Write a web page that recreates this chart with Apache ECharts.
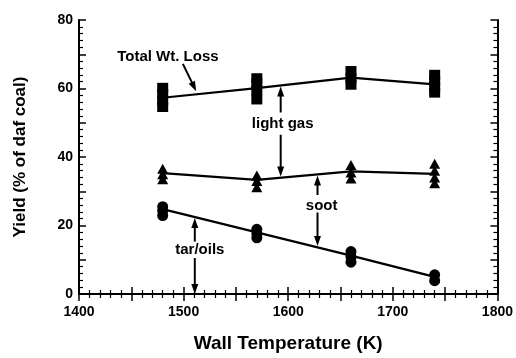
<!DOCTYPE html>
<html><head><meta charset="utf-8">
<script src="https://cdn.jsdelivr.net/npm/echarts@6/dist/echarts.min.js"></script>
<style>html,body{margin:0;padding:0;background:#fff}#c{width:516px;height:358px}</style>
</head><body><div id="c"></div>
<script>
// ---- data ----
const temps = [1480, 1570, 1660, 1740];
const totalMean = [57.3, 60.1, 63.2, 61.2];
const sootMean = [35.3, 33.3, 35.8, 35.1];
const tarMean = [24.8, 18.0, 11.2, 5.0];
const totalReps = [[54.6, 56.5, 58.4, 60.2], [56.8, 59.5, 61.5, 63.0], [61.1, 63.0, 65.1], [58.8, 60.5, 62.3, 64.0]];
const sootReps = [[33.5, 35.0, 36.6], [31.2, 33.0, 34.6], [33.7, 35.5, 37.7], [32.3, 34.0, 36.0, 38.0]];
const tarReps = [[22.9, 24.3, 25.5], [16.4, 17.7, 18.9], [9.3, 10.8, 12.4], [3.9, 5.6]];
const xTickLabels = ['1400', '1500', '1600', '1700', '1800'];
const yTickLabels = ['0', '20', '40', '60', '80'];
const xTitle = 'Wall Temperature (K)';
const yTitle = 'Yield (% of daf coal)';

// annotations (data coordinates)
const notes = [
  { text: 'Total Wt. Loss', at: [1485, 69.2] },
  { text: 'light gas', at: [1594.7, 49.6] },
  { text: 'soot', at: [1632, 25.8] },
  { text: 'tar/oils', at: [1515.5, 13.0] }
];
const arrows = [
  [[1499.3, 67.2], [1512, 59.2]],
  [[1592.8, 53.0], [1592.8, 60.6]],
  [[1592.8, 46.5], [1592.8, 34.3]],
  [[1628, 28.9], [1628, 34.6]],
  [[1628, 23.8], [1628, 14.0]],
  [[1510.7, 15.3], [1510.7, 22.2]],
  [[1510.7, 10.5], [1510.7, 0]]
];

const FONT = "'Liberation Sans', Arial, sans-serif";
const pairs = (reps) => { const out = []; reps.forEach((r, i) => r.forEach(v => out.push([temps[i], v]))); return out; };
const meanPairs = (m) => m.map((v, i) => [temps[i], v]);

const axisLineS = { show: true, lineStyle: { color: '#000', width: 2 } };
function xAx(pos, labels) {
  return {
    type: 'value', position: pos, min: 1400, max: 1800, interval: 50,
    axisLine: axisLineS,
    axisTick: { show: true, inside: true, length: 7, lineStyle: { color: '#000', width: 1.5 } },
    minorTick: { show: true, splitNumber: 5, length: 4, lineStyle: { color: '#000', width: 1.2 } },
    splitLine: { show: false },
    axisLabel: labels ? {
      show: true, color: '#000', fontFamily: FONT, fontSize: 14, fontWeight: 'bold', margin: 11,
      formatter: v => xTickLabels.includes(String(v)) ? String(v) : ''
    } : { show: false },
    name: labels ? xTitle : '', nameLocation: 'middle', nameGap: 40,
    nameTextStyle: { color: '#000', fontFamily: FONT, fontSize: 19, fontWeight: 'bold' }
  };
}
function yAx(pos, labels) {
  return {
    type: 'value', position: pos, min: 0, max: 80, interval: 10,
    axisLine: axisLineS,
    axisTick: { show: true, inside: true, length: 7, lineStyle: { color: '#000', width: 1.5 } },
    minorTick: { show: true, splitNumber: 5, length: 4, lineStyle: { color: '#000', width: 1.2 } },
    splitLine: { show: false },
    axisLabel: labels ? {
      show: true, color: '#000', fontFamily: FONT, fontSize: 14, fontWeight: 'bold', margin: 6,
      formatter: v => yTickLabels.includes(String(v)) ? String(v) : ''
    } : { show: false },
    name: labels ? yTitle : '', nameLocation: 'middle', nameGap: 50, nameRotate: 90,
    nameTextStyle: { color: '#000', fontFamily: FONT, fontSize: 17, fontWeight: 'bold' }
  };
}

const lineS = (d) => ({ type: 'line', data: meanPairs(d), xAxisIndex: 0, yAxisIndex: 0, showSymbol: false, symbol: 'none',
  lineStyle: { color: '#000', width: 2.2 }, silent: true, z: 2 });
const scatS = (d, sym, size) => ({ type: 'scatter', data: pairs(d), xAxisIndex: 0, yAxisIndex: 0, symbol: sym, symbolSize: size,
  itemStyle: { color: '#000', opacity: 1 }, silent: true, z: 3 });

const chart = echarts.init(document.getElementById('c'), null, { renderer: 'canvas' });
chart.setOption({
  backgroundColor: '#fff',
  animation: false,
  grid: { left: 79, right: 18, top: 20, bottom: 56, containLabel: false },
  xAxis: [xAx('bottom', true), xAx('top', false)],
  yAxis: [yAx('left', true), yAx('right', false)],
  series: [
    lineS(totalMean), lineS(sootMean), lineS(tarMean),
    scatS(totalReps, 'rect', [11, 10]),
    scatS(sootReps, 'triangle', [11, 10]),
    scatS(tarReps, 'circle', [11, 11])
  ]
});

// annotations
const px = (p) => chart.convertToPixel({ xAxisIndex: 0, yAxisIndex: 0 }, p);
const g = [];
notes.forEach(n => {
  const p = px(n.at);
  g.push({ type: 'text', x: p[0], y: p[1], style: { text: n.text, fill: '#000', font: 'bold 15px ' + FONT, textAlign: 'center', textVerticalAlign: 'middle' }, z: 10 });
});
arrows.forEach(a => {
  const p0 = px(a[0]), p1 = px(a[1]);
  const dx = p1[0] - p0[0], dy = p1[1] - p0[1];
  const L = Math.hypot(dx, dy), ux = dx / L, uy = dy / L;
  const hl = 10, hw = 3.5;
  const bx = p1[0] - ux * hl, by = p1[1] - uy * hl;
  g.push({ type: 'line', shape: { x1: p0[0], y1: p0[1], x2: bx + ux, y2: by + uy }, style: { stroke: '#000', lineWidth: 2 }, z: 10 });
  g.push({ type: 'polygon', shape: { points: [[p1[0], p1[1]], [bx - uy * hw, by + ux * hw], [bx + uy * hw, by - ux * hw]] }, style: { fill: '#000' }, z: 10 });
});
chart.setOption({ graphic: g });
</script>
</body></html>
